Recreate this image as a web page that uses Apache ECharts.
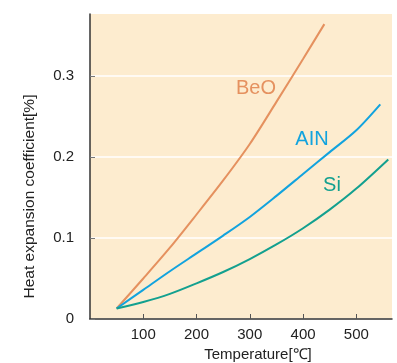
<!DOCTYPE html>
<html><head><meta charset="utf-8">
<script src="https://cdn.jsdelivr.net/npm/echarts@6/dist/echarts.min.js"></script>
<style>html,body{margin:0;padding:0;background:#fff}#c{width:397px;height:363px}</style>
</head><body><div id="c"></div>
<script>
const beoX = [50, 100, 150, 200, 250, 300, 350, 400, 440];
const beoY = [0.013, 0.050, 0.088, 0.129, 0.171, 0.216, 0.268, 0.321, 0.364];
const ainX = [50, 100, 150, 200, 250, 300, 350, 400, 450, 500, 545];
const ainY = [0.013, 0.036, 0.059, 0.081, 0.103, 0.126, 0.152, 0.179, 0.206, 0.233, 0.265];
const siX = [50, 100, 150, 200, 250, 300, 350, 400, 450, 500, 560];
const siY = [0.013, 0.021, 0.031, 0.044, 0.058, 0.074, 0.092, 0.112, 0.135, 0.161, 0.197];
const xTicks = [100, 200, 300, 400, 500];
const yTicks = [0, 0.1, 0.2, 0.3];
const seriesNames = ['BeO', 'AIN', 'Si'];

const colors = ['#e5915f', '#12a3de', '#13a08f'];
const zip = (xs, ys) => xs.map((x, i) => [x, ys[i]]);
const font = 'Liberation Sans, Arial, sans-serif';

const chart = echarts.init(document.getElementById('c'), null, {renderer: 'canvas'});
chart.setOption({
  animation: false,
  grid: {left: 90, top: 14, right: 5, bottom: 44, show: true, backgroundColor: '#fdeccf', borderWidth: 0, outerBoundsMode: 'none', containLabel: false},
  xAxis: {
    type: 'value', min: 0, max: 567,
    name: 'Temperature[℃]', nameLocation: 'middle', nameGap: 28,
    nameTextStyle: {fontFamily: font, fontSize: 15, color: '#222', padding: [0, 0, 0, 34]},
    axisLine: {lineStyle: {color: '#333', width: 1.5}},
    axisTick: {inside: true, length: 5, customValues: xTicks, lineStyle: {color: '#555'}},
    axisLabel: {customValues: xTicks, fontFamily: font, fontSize: 15, color: '#222', margin: 8},
    splitLine: {show: false}
  },
  yAxis: {
    type: 'value', min: 0, max: 0.3765, interval: 0.1,
    name: 'Heat expansion coefficient[%]', nameLocation: 'middle', nameGap: 52,
    nameTextStyle: {fontFamily: font, fontSize: 15.5, color: '#222', padding: [0, 60, 0, 0]},
    axisLine: {show: true, lineStyle: {color: '#333', width: 1.5}},
    axisTick: {show: true, inside: true, length: 5, customValues: yTicks, lineStyle: {color: '#777'}},
    axisLabel: {customValues: yTicks, fontFamily: font, fontSize: 15, color: '#222', margin: 16},
    splitLine: {show: true, customValues: yTicks, lineStyle: {color: '#ffffff', width: 1.5}}
  },
  series: [
    {name: seriesNames[0], type: 'line', data: zip(beoX, beoY), smooth: 0.3, showSymbol: false, lineStyle: {color: colors[0], width: 2}},
    {name: seriesNames[1], type: 'line', data: zip(ainX, ainY), smooth: 0.3, showSymbol: false, lineStyle: {color: colors[1], width: 2}},
    {name: seriesNames[2], type: 'line', data: zip(siX, siY), smooth: 0.3, showSymbol: false, lineStyle: {color: colors[2], width: 2}}
  ],
  graphic: [
    {type: 'text', x: 256, y: 88, style: {text: seriesNames[0], font: '20px ' + font, fill: colors[0], align: 'center', verticalAlign: 'middle'}},
    {type: 'text', x: 312, y: 139, style: {text: seriesNames[1], font: '20px ' + font, fill: colors[1], align: 'center', verticalAlign: 'middle'}},
    {type: 'text', x: 332, y: 185, style: {text: seriesNames[2], font: '20px ' + font, fill: colors[2], align: 'center', verticalAlign: 'middle'}}
  ]
});
</script></body></html>
